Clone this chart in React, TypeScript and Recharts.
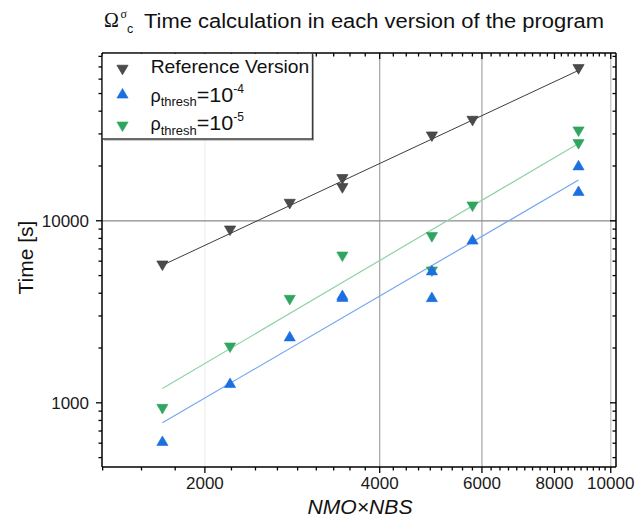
import React from "react";
import { ScatterChart, Scatter, XAxis, YAxis, ReferenceLine } from "recharts";

// NMO x NBS of each run and the measured time [s]
const refX = [1690, 2210, 2800, 3450, 3450, 4920, 5780, 8800];
const refTime = [5660, 8810, 12350, 16880, 15060, 28950, 35300, 67860];

const t4X = [1690, 2210, 2800, 3450, 3450, 4920, 4920, 5780, 8800, 8800];
const t4Time = [619, 1289, 2325, 3920, 3830, 5358, 3820, 7910, 20230, 14620];

const t5X = [1690, 2210, 2800, 3450, 4920, 4920, 5780, 8800, 8800];
const t5Time = [923, 2006, 3667, 6340, 8110, 5250, 11940, 30850, 26280];

// fitted trend lines, end points
const fitX = [1690, 8800];
const refFit = [5700, 67000];
const t4Fit = [777, 16740];
const t5Fit = [1199, 26610];

const xLabels = [2000, 4000, 6000, 8000, 10000];
const yLabels = [1000, 10000];
const yMinor = [
  500, 600, 700, 800, 900, 2000, 3000, 4000, 5000, 6000, 7000, 8000, 9000,
  20000, 30000, 40000, 50000, 60000, 70000, 80000,
];

const X_DOMAIN = [1330, 10210];
const Y_DOMAIN = [444, 83500];

// plot box size, used to mirror the ticks on the top and right sides
const PLOT_W = 514;
const PLOT_H = 414;

// origin style: 8 minor ticks between the 2000-step majors
const xTicks: number[] = [];
for (let k = 6; k <= 45; k++) {
  const v = (2000 * k) / 9;
  if (v >= X_DOMAIN[0] && v <= X_DOMAIN[1]) xTicks.push(v);
}
const yTicks = [...yLabels, ...yMinor].sort((a, b) => a - b);

const C_REF = "#4b4b4b";
const C_T4 = "#1b6fe0";
const C_T5 = "#2fa560";

const FONT = "'Liberation Sans', Arial, sans-serif";

const pts = (xs: number[], ys: number[]) => xs.map((x, i) => ({ x, y: ys[i] }));

function Tri({ cx, cy, fill, up, stroke }: any) {
  const w = 5.6;
  const h = 9.6;
  const p = up
    ? `${cx - w},${cy + h / 2} ${cx + w},${cy + h / 2} ${cx},${cy - h / 2}`
    : `${cx - w},${cy - h / 2} ${cx + w},${cy - h / 2} ${cx},${cy + h / 2}`;
  return <polygon points={p} fill={fill} stroke={stroke || fill} strokeWidth={0.6} />;
}

const isMajorX = (v: number) => xLabels.includes(Math.round(v));
const isMajorY = (v: number) => yLabels.includes(v);

function BottomTick(p: any) {
  const v = p.payload.value;
  const major = isMajorX(v);
  const len = major ? 6 : 3.5;
  const top = p.y - PLOT_H;
  return (
    <g>
      <line x1={p.x} x2={p.x} y1={p.y} y2={p.y + len} stroke="#000" strokeWidth={1.3} />
      <line x1={p.x} x2={p.x} y1={top} y2={top + len} stroke="#000" strokeWidth={1.3} />
      {major && (
        <text x={p.x} y={p.y + 21.5} textAnchor="middle" fontSize={17} fontFamily={FONT} fill="#1a1a1a">
          {Math.round(v)}
        </text>
      )}
    </g>
  );
}

function LeftTick(p: any) {
  const v = p.payload.value;
  const major = isMajorY(v);
  const len = major ? 6 : 3.5;
  const right = p.x + PLOT_W;
  return (
    <g>
      <line x1={p.x} x2={p.x - len} y1={p.y} y2={p.y} stroke="#000" strokeWidth={1.3} />
      <line x1={right} x2={right - len} y1={p.y} y2={p.y} stroke="#000" strokeWidth={1.3} />
      {major && (
        <text x={p.x - 13} y={p.y + 6} textAnchor="end" fontSize={17} fontFamily={FONT} fill="#1a1a1a">
          {v}
        </text>
      )}
    </g>
  );
}

const noShape = () => <g />;

function Overlay() {
  return (
    <svg
      width={637}
      height={528}
      style={{ position: "absolute", left: 0, top: 0, pointerEvents: "none" }}
      fontFamily={FONT}
    >
      {/* title */}
      <text x={104} y={26.5} fontSize={20} fontFamily="'Liberation Serif', serif" fill="#111">
        Ω
      </text>
      <text x={120.5} y={17.5} fontSize={12} fontFamily="'Liberation Serif', serif" fill="#111">
        σ
      </text>
      <text x={127} y={33} fontSize={12.5} fill="#111">
        c
      </text>
      <text x={144} y={28.3} fontSize={20} fill="#111" textLength={460} lengthAdjust="spacingAndGlyphs">
        Time calculation in each version of the program
      </text>

      {/* axis titles */}
      <text
        x={33}
        y={257.5}
        transform="rotate(-90, 33, 257.5)"
        textAnchor="middle"
        fontSize={21}
        fill="#111"
      >
        Time [s]
      </text>
      <text x={360} y={514} textAnchor="middle" fontSize={20} fontStyle="italic" fill="#111" textLength={105} lengthAdjust="spacingAndGlyphs">
        NMO×NBS
      </text>

      {/* legend box */}
      <rect x={102.8} y={53.9} width={209.5} height={85} fill="#fff" />
      <line x1={313.5} x2={313.5} y1={55} y2={140.5} stroke="#bbb" strokeWidth={1} />
      <line x1={104} x2={314} y1={140.3} y2={140.3} stroke="#bbb" strokeWidth={1} />
      <line x1={312.5} x2={312.5} y1={53} y2={139.3} stroke="#3a3a3a" strokeWidth={1.4} />
      <line x1={102} x2={313.2} y1={139} y2={139} stroke="#3a3a3a" strokeWidth={1.4} />

      <Tri cx={122.5} cy={70} fill={C_REF} stroke="#333" />
      <text x={150.7} y={73.3} fontSize={19} fill="#111" textLength={158.6} lengthAdjust="spacingAndGlyphs">
        Reference Version
      </text>

      <Tri cx={122.5} cy={93.3} fill={C_T4} up />
      <text x={150.5} y={101.5} fontSize={18} fill="#111">ρ</text>
      <text x={160.7} y={106} fontSize={13} fill="#111" textLength={36} lengthAdjust="spacingAndGlyphs">thresh</text>
      <text x={196.7} y={101.7} fontSize={20} fill="#111" textLength={36.6} lengthAdjust="spacingAndGlyphs">=10</text>
      <text x={233.3} y={92.5} fontSize={12} fill="#111">-4</text>

      <Tri cx={122.5} cy={126.8} fill={C_T5} />
      <text x={150.5} y={130} fontSize={18} fill="#111">ρ</text>
      <text x={160.7} y={134.5} fontSize={13} fill="#111" textLength={36} lengthAdjust="spacingAndGlyphs">thresh</text>
      <text x={196.7} y={130.2} fontSize={20} fill="#111" textLength={36.6} lengthAdjust="spacingAndGlyphs">=10</text>
      <text x={233.3} y={121} fontSize={12} fill="#111">-5</text>
    </svg>
  );
}

export default function App() {
  return (
    <div style={{ position: "absolute", left: 0, top: 0, width: 637, height: 528, background: "#fff" }}>
      <ScatterChart width={637} height={528} margin={{ top: 53, right: 21, bottom: 0, left: 0 }}>
        <XAxis
          dataKey="x"
          type="number"
          scale="log"
          domain={X_DOMAIN}
          allowDataOverflow
          ticks={xTicks}
          interval={0}
          height={61}
          tickSize={0}
          tickMargin={0}
          tickLine={false}
          tick={BottomTick}
          axisLine={{ stroke: "#000", strokeWidth: 1.5 }}
        />
        <YAxis
          dataKey="y"
          type="number"
          scale="log"
          domain={Y_DOMAIN}
          allowDataOverflow
          ticks={yTicks}
          interval={0}
          width={102}
          tickSize={0}
          tickMargin={0}
          tickLine={false}
          tick={LeftTick}
          axisLine={{ stroke: "#000", strokeWidth: 1.5 }}
        />

        <ReferenceLine x={2000} stroke="#ececec" strokeWidth={1} />
        <ReferenceLine x={4000} stroke="#ababab" strokeWidth={1.3} />
        <ReferenceLine x={6000} stroke="#ababab" strokeWidth={1.3} />
        <ReferenceLine x={10000} stroke="#c4c4c4" strokeWidth={1.3} />
        <ReferenceLine y={10000} stroke="#8a8a8a" strokeWidth={1.3} />
        {/* top and right sides of the plot frame */}
        <ReferenceLine x={X_DOMAIN[1]} stroke="#000" strokeWidth={1.5} />
        <ReferenceLine y={Y_DOMAIN[1]} stroke="#000" strokeWidth={1.5} />

        <Scatter data={pts(fitX, refFit)} line={{ stroke: "#3c3c3c", strokeWidth: 1 }} shape={noShape} isAnimationActive={false} />
        <Scatter data={pts(fitX, t5Fit)} line={{ stroke: "#8fd3a6", strokeWidth: 1.2 }} shape={noShape} isAnimationActive={false} />
        <Scatter data={pts(fitX, t4Fit)} line={{ stroke: "#73a8f0", strokeWidth: 1.2 }} shape={noShape} isAnimationActive={false} />

        <Scatter
          data={pts(refX, refTime)}
          isAnimationActive={false}
          shape={(p: any) => <Tri cx={p.cx} cy={p.cy} fill={C_REF} stroke="#333" />}
        />
        <Scatter
          data={pts(t5X, t5Time)}
          isAnimationActive={false}
          shape={(p: any) => <Tri cx={p.cx} cy={p.cy} fill={C_T5} />}
        />
        <Scatter
          data={pts(t4X, t4Time)}
          isAnimationActive={false}
          shape={(p: any) => <Tri cx={p.cx} cy={p.cy} fill={C_T4} up />}
        />
      </ScatterChart>
      <Overlay />
    </div>
  );
}
